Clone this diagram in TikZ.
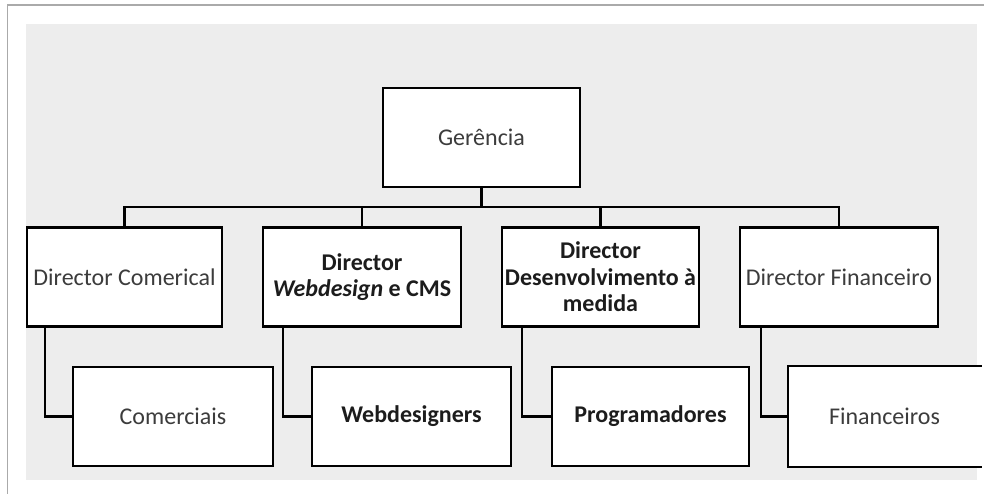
\documentclass[tikz,border=0pt]{standalone}
\usepackage{fontspec}
\setmainfont{Carlito}
\definecolor{bggray}{RGB}{237,237,237}
\definecolor{framegray}{RGB}{170,170,170}
\definecolor{txtgray}{RGB}{60,60,60}
\definecolor{txtdark}{RGB}{28,28,28}
\tikzset{
  box/.style={draw=black, fill=white, line width=2.2bp, minimum height=99bp,
    inner sep=0pt, align=center, text=txtgray,
    font=\fontsize{24bp}{26.5bp}\selectfont},
  boldbox/.style={box, text=txtdark,
    font=\fontsize{24bp}{26.5bp}\selectfont\bfseries},
  conn/.style={draw=black, line width=2.2bp, line cap=rect}
}
\begin{document}
\begin{tikzpicture}[x=1bp,y=-1bp]
\useasboundingbox (0,0) rectangle (984,494);
\fill[bggray] (26,24) rectangle (977,480);
\draw[framegray, line width=1.5bp] (7.5,494) -- (7.5,5) -- (984,5);

% top
\node[box, minimum width=197bp] (ger) at (481.5,137.5) {Gerência};

% directors
\node[box, minimum width=195bp] (d1) at (124.5,277) {Director Comerical};
\node[boldbox, minimum width=198bp] (d2) at (362,277) {Director\\\textit{Webdesign} e CMS};
\node[boldbox, minimum width=197bp] (d3) at (600.5,277) {Director\\Desenvolvimento à\\medida};
\node[box, minimum width=198bp] (d4) at (839,277) {Director Financeiro};

% bus
\coordinate (bus) at (0,207);
\draw[conn] (d1.north) -- (d1.north |- bus) -- (d4.north |- bus) -- (d4.north);
\draw[conn] (ger.south) -- (ger.south |- bus);
\draw[conn] (d2.north) -- (d2.north |- bus);
\draw[conn] (d3.north) -- (d3.north |- bus);

% teams
\node[box, minimum width=200bp] (c1) at (173,416.5) {Comerciais};
\node[boldbox, minimum width=199bp] (c2) at (411.5,416.5) {Webdesigners};
\node[boldbox, minimum width=197bp] (c3) at (650.5,416.5) {Programadores};
\node[box, draw=none, minimum width=191bp] (c4) at (884.5,416.5) {Financeiros};
\draw[conn] (c4.north east) -- (c4.north west) -- (c4.south west) -- (c4.south east);

% connectors
\coordinate (k1) at (45,0);
\coordinate (k2) at (283,0);
\coordinate (k3) at (522,0);
\coordinate (k4) at (761,0);
\draw[conn] (k1 |- d1.south) |- (c1.west);
\draw[conn] (k2 |- d2.south) |- (c2.west);
\draw[conn] (k3 |- d3.south) |- (c3.west);
\draw[conn] (k4 |- d4.south) |- (c4.west);
\end{tikzpicture}
\end{document}
